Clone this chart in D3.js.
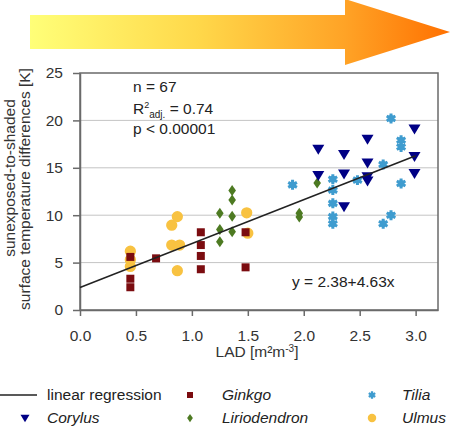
<!DOCTYPE html>
<html lang="en">
<head>
<meta charset="UTF-8">
<title>LAD vs surface temperature differences</title>
<script src="https://d3js.org/d3.v7.min.js"></script>
<style>
  body { margin: 0; background: #fff; }
  svg { display: block; font-family: "Liberation Sans", Arial, sans-serif; }
</style>
</head>
<body>
<div id="chart"></div>
<script>
  // data: [LAD, temperature difference]
  const ginkgo = [[0.45, 5.6], [0.45, 3.3], [0.45, 2.4], [0.68, 5.45], [1.08, 8.2], [1.08, 6.85],
                  [1.08, 5.7], [1.08, 4.3], [1.48, 8.2], [1.48, 4.5]];
  const ulmus = [[0.45, 6.2], [0.45, 5.3], [0.45, 4.6], [0.82, 8.95], [0.87, 9.85], [0.82, 6.85],
                 [0.89, 6.85], [0.87, 4.15], [1.49, 10.25], [1.5, 8.1]];
  const liriodendron = [[1.25, 10.2], [1.25, 8.5], [1.25, 7.2], [1.36, 12.6], [1.36, 11.6], [1.36, 9.9],
                        [1.36, 8.25], [1.96, 10.2], [1.96, 9.8], [2.12, 13.4]];
  const corylus = [[2.13, 16.95], [2.13, 14.2], [2.36, 16.4], [2.36, 14.35], [2.36, 10.9], [2.57, 18.0],
                   [2.57, 15.5], [2.57, 14.05], [2.57, 13.6], [2.99, 19.1], [2.99, 16.2], [2.99, 14.4]];
  const tilia = [[1.9, 13.2], [2.26, 13.8], [2.26, 12.65], [2.26, 11.25], [2.26, 9.85], [2.26, 9.1],
                 [2.48, 13.7], [2.71, 15.35], [2.71, 9.1], [2.78, 20.2], [2.78, 10.0], [2.87, 17.9],
                 [2.87, 17.2], [2.87, 13.35]];

  const xTicks = [0, 0.5, 1, 1.5, 2, 2.5, 3];
  const yTicks = [0, 5, 10, 15, 20, 25];
  const intercept = 2.38, slope = 4.63;

  const W = 450, H = 429;
  const margin = { top: 73, right: 12, bottom: 119, left: 80 };

  const svg = d3.select("#chart").append("svg")
      .attr("width", W).attr("height", H);

  // gradient arrow on top
  const grad = svg.append("defs").append("linearGradient")
      .attr("id", "arrowGrad").attr("x1", "0%").attr("x2", "100%");
  grad.append("stop").attr("offset", "0%").attr("stop-color", "#ffff78");
  grad.append("stop").attr("offset", "40%").attr("stop-color", "#ffd84a");
  grad.append("stop").attr("offset", "75%").attr("stop-color", "#ffa326");
  grad.append("stop").attr("offset", "100%").attr("stop-color", "#ff7000");
  svg.append("path")
      .attr("d", "M30,15 L345,15 L345,-1 L450,32 L345,65 L345,49 L30,49 Z")
      .attr("fill", "url(#arrowGrad)");

  const x = d3.scaleLinear().domain([0, 3.2]).range([margin.left, W - margin.right]);
  const y = d3.scaleLinear().domain([0, 25]).range([H - margin.bottom, margin.top]);

  // grid lines
  svg.append("g").selectAll("line")
    .data(yTicks.filter(d => d > 0 && d < 25))
    .join("line")
      .attr("x1", x(0)).attr("x2", x(3.2))
      .attr("y1", d => y(d)).attr("y2", d => y(d))
      .attr("stroke", "#c4c4c4").attr("stroke-width", 1);

  // frame
  svg.append("rect")
      .attr("x", x(0)).attr("y", y(25))
      .attr("width", x(3.2) - x(0)).attr("height", y(0) - y(25))
      .attr("fill", "none").attr("stroke", "#6a6a6a").attr("stroke-width", 1.5);

  // axes
  const yAxis = svg.append("g")
      .attr("transform", `translate(${x(0)},0)`)
      .call(d3.axisLeft(y).tickValues(yTicks).tickSize(7).tickPadding(10).tickSizeOuter(0));
  const xAxis = svg.append("g")
      .attr("transform", `translate(0,${y(0)})`)
      .call(d3.axisBottom(x).tickValues(xTicks).tickFormat(d3.format(".1f"))
        .tickSize(6).tickPadding(14).tickSizeOuter(0));
  [xAxis, yAxis].forEach(g => {
    g.select(".domain").attr("stroke", "#6a6a6a").attr("stroke-width", 1.5);
    g.selectAll(".tick line").attr("stroke", "#6a6a6a").attr("stroke-width", 1.5);
    g.selectAll("text").attr("fill", "#333").style("font-size", "15.5px")
      .style("font-family", "'Liberation Sans', Arial, sans-serif");
  });

  // axis titles
  svg.append("text")
      .attr("transform", `translate(15,178) rotate(-90)`)
      .attr("text-anchor", "middle").attr("fill", "#333").style("font-size", "15.5px")
      .text("sunexposed-to-shaded");
  svg.append("text")
      .attr("transform", `translate(30,189) rotate(-90)`)
      .attr("text-anchor", "middle").attr("fill", "#333").style("font-size", "15.5px")
      .text("surface temperature differences [K]");

  const xt = svg.append("text")
      .attr("x", 257).attr("y", 357)
      .attr("text-anchor", "middle").attr("fill", "#333").style("font-size", "15.5px");
  xt.append("tspan").text("LAD [m²m");
  xt.append("tspan").attr("dy", -5).style("font-size", "10px").text("-3");
  xt.append("tspan").attr("dy", 5).text("]");

  // symbols
  const sym = {
    ginkgo: { type: d3.symbolSquare, size: 64, fill: "#7b0c10" },
    ulmus: { type: d3.symbolCircle, size: 100, fill: "#f8c241" },
    liriodendron: { type: "diamond", fill: "#4d7a22" },
    corylus: { type: "tri", fill: "#000085" },
    tilia: { type: "star", fill: "#3f9ccf" }
  };

  function drawMarker(g, key, scale) {
    const s = sym[key];
    if (s.type === "diamond") {
      g.append("path").attr("d", `M0,${-5.5 * scale} L${3.8 * scale},0 L0,${5.5 * scale} L${-3.8 * scale},0 Z`)
        .attr("fill", s.fill);
    } else if (s.type === "tri") {
      g.append("path").attr("d", `M${-6 * scale},${-4.5 * scale} L${6 * scale},${-4.5 * scale} L0,${5.5 * scale} Z`)
        .attr("fill", s.fill);
    } else if (s.type === "star") {
      g.append("path").attr("d", d3.symbol(d3.symbolAsterisk, 70 * scale * scale)())
        .attr("stroke", s.fill).attr("stroke-width", 3 * scale).attr("fill", "none");
      g.append("circle").attr("r", 3.4 * scale).attr("fill", s.fill);
    } else {
      g.append("path").attr("d", d3.symbol(s.type, s.size * scale * scale)()).attr("fill", s.fill);
    }
  }

  function drawSeries(data, key) {
    svg.append("g").selectAll("g")
      .data(data)
      .join("g")
        .attr("transform", d => `translate(${x(d[0])},${y(d[1])})`)
        .each(function() { drawMarker(d3.select(this), key, 1); });
  }

  drawSeries(ulmus, "ulmus");
  drawSeries(ginkgo, "ginkgo");
  drawSeries(liriodendron, "liriodendron");
  drawSeries(tilia, "tilia");
  drawSeries(corylus, "corylus");

  // regression line
  svg.append("line")
      .attr("x1", x(0)).attr("y1", y(intercept))
      .attr("x2", x(3)).attr("y2", y(intercept + slope * 3))
      .attr("stroke", "#222").attr("stroke-width", 1.5);

  // annotations
  const ann = svg.append("g").attr("fill", "#222").style("font-size", "15.5px");
  ann.append("text").attr("x", 133).attr("y", 92).text("n = 67");
  const r2 = ann.append("text").attr("x", 133).attr("y", 114);
  r2.append("tspan").text("R");
  r2.append("tspan").attr("dy", -6).style("font-size", "9px").text("2");
  r2.append("tspan").attr("dy", 10).style("font-size", "10px").text("adj.");
  r2.append("tspan").attr("dy", -4).text(" = 0.74");
  ann.append("text").attr("x", 133).attr("y", 134).text("p < 0.00001");
  ann.append("text").attr("x", 292).attr("y", 287).text("y = 2.38+4.63x");

  // legend
  const legend = svg.append("g").style("font-size", "15.5px").attr("fill", "#222");
  const legendItems = [
    { key: "line", label: "linear regression", mx: 18, tx: 47, ty: 395 },
    { key: "ginkgo", label: "Ginkgo", mx: 190, tx: 222, ty: 395 },
    { key: "tilia", label: "Tilia", mx: 372, tx: 402, ty: 395 },
    { key: "corylus", label: "Corylus", mx: 25, tx: 47, ty: 418 },
    { key: "liriodendron", label: "Liriodendron", mx: 190, tx: 222, ty: 418 },
    { key: "ulmus", label: "Ulmus", mx: 372, tx: 402, ty: 418 }
  ];
  legendItems.forEach(it => {
    if (it.key === "line") {
      legend.append("line").attr("x1", 0).attr("x2", 37).attr("y1", it.ty).attr("y2", it.ty)
        .attr("stroke", "#222").attr("stroke-width", 1.5);
    } else {
      drawMarker(legend.append("g").attr("transform", `translate(${it.mx},${it.ty})`), it.key, 0.75);
    }
    legend.append("text").attr("x", it.tx).attr("y", it.ty).attr("dy", "0.35em")
      .style("font-style", it.key === "line" ? "normal" : "italic")
      .text(it.label);
  });
</script>
</body>
</html>
